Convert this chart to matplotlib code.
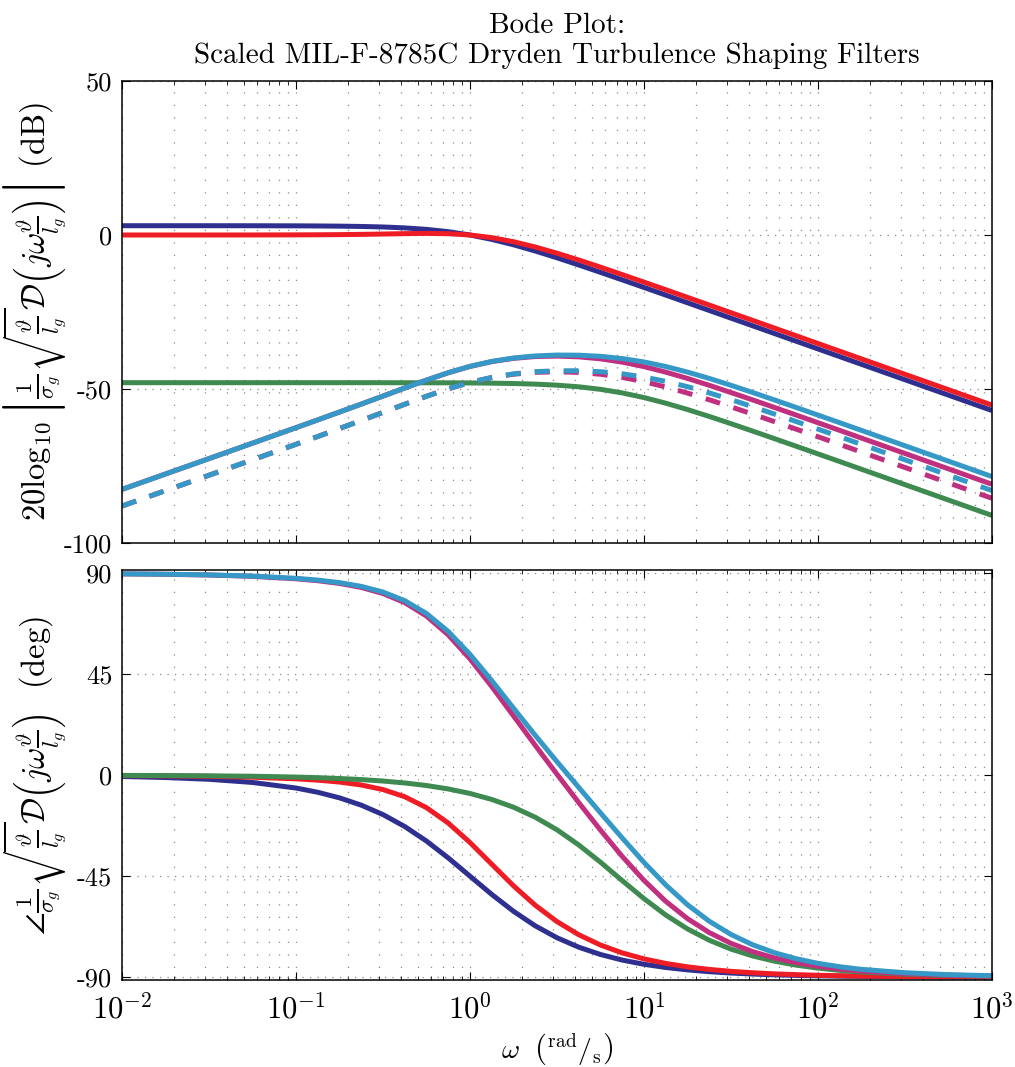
import matplotlib
matplotlib.use("Agg")
import matplotlib.pyplot as plt
from matplotlib.ticker import LogLocator, NullFormatter, FixedLocator

plt.rcParams['font.family'] = 'serif'
plt.rcParams['font.serif'] = ['cmr10', 'DejaVu Serif']
plt.rcParams['mathtext.fontset'] = 'cm'
plt.rcParams['axes.formatter.use_mathtext'] = True

# frequencies (rad/s)
omega = [0.01, 0.01778, 0.03162, 0.05623, 0.1, 0.1334, 0.1778, 0.2371, 0.3162,
         0.4217, 0.5623, 0.7499, 1.0, 1.334, 1.778, 2.371, 3.162, 4.217, 5.623,
         7.499, 10.0, 13.34, 17.78, 23.71, 31.62, 42.17, 56.23, 74.99, 100.0,
         133.4, 177.8, 316.2, 562.3, 1000.0]

# magnitudes (dB)
mag_u = [3.01, 3.01, 3.01, 3.00, 2.97, 2.93, 2.87, 2.77, 2.60, 2.30, 1.82, 1.07,
         0.00, -1.43, -3.18, -5.20, -7.40, -9.73, -12.13, -14.57, -17.03, -19.51,
         -22.00, -24.50, -27.00, -29.49, -31.99, -34.49, -36.99, -39.49, -41.99,
         -46.99, -51.99, -56.99]
mag_v = [0.00, 0.00, 0.00, 0.01, 0.04, 0.07, 0.12, 0.20, 0.31, 0.44, 0.51, 0.42,
         0.00, -0.86, -2.18, -3.90, -5.91, -8.12, -10.45, -12.86, -15.30, -17.77,
         -20.25, -22.74, -25.24, -27.73, -30.23, -32.73, -35.23, -37.73, -40.23,
         -45.23, -50.23, -55.23]
mag_p = [-47.95, -47.95, -47.95, -47.95, -47.95, -47.95, -47.95, -47.95, -47.96,
         -47.97, -47.98, -48.00, -48.04, -48.10, -48.22, -48.42, -48.76, -49.29,
         -50.11, -51.27, -52.78, -54.61, -56.67, -58.91, -61.26, -63.67, -66.12,
         -68.59, -71.07, -73.56, -76.05, -81.05, -86.05, -91.05]
mag_q = [-82.6, -77.6, -72.6, -67.59, -62.56, -60.03, -57.48, -54.91, -52.30,
         -49.68, -47.12, -44.73, -42.69, -41.11, -40.05, -39.47, -39.32, -39.56,
         -40.21, -41.28, -42.73, -44.53, -46.57, -48.80, -51.15, -53.55, -56.00,
         -58.47, -60.95, -63.44, -65.93, -70.93, -75.93, -80.93]
mag_r = [-82.6, -77.6, -72.6, -67.59, -62.56, -60.03, -57.48, -54.90, -52.30,
         -49.67, -47.11, -44.71, -42.65, -41.05, -39.94, -39.27, -38.98, -39.03,
         -39.39, -40.12, -41.22, -42.70, -44.51, -46.56, -48.80, -51.14, -53.55,
         -56.00, -58.47, -60.95, -63.44, -68.43, -73.43, -78.43]
mag_q_alt = [-88.0, -83.0, -78.0, -72.99, -67.96, -65.43, -62.83, -60.24, -57.60,
             -54.96, -52.37, -49.95, -47.89, -46.29, -45.20, -44.59, -44.42, -44.61,
             -45.21, -46.23, -47.63, -49.35, -51.32, -53.50, -55.80, -58.17, -60.60,
             -63.04, -65.50, -67.99, -70.48, -75.48, -80.48, -85.48]
mag_r_alt = [-88.0, -83.0, -78.0, -72.99, -67.96, -65.43, -62.83, -60.23, -57.60,
             -54.95, -52.36, -49.93, -47.85, -46.23, -45.09, -44.39, -44.08, -44.08,
             -44.39, -45.07, -46.12, -47.52, -49.26, -51.26, -53.45, -55.76, -58.15,
             -60.57, -63.02, -65.50, -67.99, -72.98, -77.98, -82.98]

# phases (deg)
ph_u = [-0.57, -1.02, -1.81, -3.22, -5.71, -7.60, -10.08, -13.34, -17.55, -22.87,
        -29.35, -36.86, -45.0, -53.14, -60.65, -67.14, -72.45, -76.66, -79.92,
        -82.41, -84.29, -85.71, -86.78, -87.59, -88.19, -88.64, -88.98, -89.24,
        -89.43, -89.57, -89.68, -89.82, -89.90, -89.94]
ph_v = [-0.15, -0.27, -0.49, -0.87, -1.60, -2.19, -3.04, -4.35, -6.39, -9.59,
        -14.45, -21.32, -30.0, -39.68, -49.29, -57.95, -65.25, -71.11, -75.70,
        -79.21, -81.88, -83.90, -85.42, -86.57, -87.43, -88.07, -88.55, -88.91,
        -89.19, -89.39, -89.55, -89.74, -89.86, -89.91]
ph_p = [-0.08, -0.15, -0.26, -0.46, -0.82, -1.09, -1.46, -1.94, -2.59, -3.45,
        -4.59, -6.12, -8.13, -10.79, -14.25, -18.72, -24.31, -31.08, -38.77,
        -46.99, -55.01, -62.32, -68.51, -73.56, -77.52, -80.58, -82.90, -84.67,
        -86.00, -86.99, -87.75, -88.73, -89.29, -89.60]
ph_q = [89.77, 89.58, 89.25, 88.67, 87.58, 86.72, 85.51, 83.71, 81.02, 76.96,
        70.96, 62.56, 51.87, 39.53, 26.46, 13.33, 0.44, -12.19, -24.47, -36.20,
        -46.89, -56.22, -63.93, -70.13, -74.95, -78.65, -81.45, -83.58, -85.19,
        -86.38, -87.30, -88.47, -89.15, -89.51]
ph_r = [89.79, 89.62, 89.32, 88.79, 87.79, 86.99, 85.87, 84.19, 81.67, 77.82,
        72.10, 64.09, 53.88, 42.19, 29.92, 17.80, 6.03, -5.42, -16.78, -27.98,
        -38.87, -48.91, -57.74, -65.08, -70.99, -75.59, -79.13, -81.81, -83.86,
        -85.39, -86.54, -88.05, -88.91, -89.38]

c_u = '#2e2f8f'
c_v = '#ee1c25'
c_p = '#3e8a50'
c_q = '#c0307f'
c_r = '#3598c6'

LW = 3.6
DASH = (3.0, 2.8)

fig = plt.figure(figsize=(10.15, 10.67), dpi=100)
ax1 = fig.add_axes([0.1202, 0.4911, 0.8571, 0.4330])
ax2 = fig.add_axes([0.1202, 0.0811, 0.8571, 0.3847])

kw = dict(lw=LW, solid_joinstyle='round', solid_capstyle='butt')
ax1.plot(omega, mag_u, color=c_u, **kw)
ax1.plot(omega, mag_v, color=c_v, **kw)
ax1.plot(omega, mag_p, color=c_p, **kw)
ax1.plot(omega, mag_q, color=c_q, **kw)
ax1.plot(omega, mag_r, color=c_r, **kw)
ax1.plot(omega, mag_q_alt, color=c_q, lw=LW, dashes=DASH)
ax1.plot(omega, mag_r_alt, color=c_r, lw=LW, dashes=DASH)

ax2.plot(omega, ph_u, color=c_u, **kw)
ax2.plot(omega, ph_v, color=c_v, **kw)
ax2.plot(omega, ph_p, color=c_p, **kw)
ax2.plot(omega, ph_q, color=c_q, **kw)
ax2.plot(omega, ph_r, color=c_r, **kw)

for ax in (ax1, ax2):
    ax.set_xscale('log')
    ax.set_xlim(1e-2, 1e3)
    ax.xaxis.set_major_locator(LogLocator(base=10, numticks=10))
    ax.xaxis.set_minor_locator(LogLocator(base=10, subs=range(2, 10), numticks=100))
    ax.xaxis.set_minor_formatter(NullFormatter())
    ax.tick_params(which='both', direction='in', top=True, right=True)
    ax.tick_params(which='major', length=6, width=0.8, pad=7)
    ax.tick_params(which='minor', length=3, width=0.6)
    ax.grid(True, which='both', axis='x', color='#8a8a8a', lw=0.9,
            linestyle=(0, (1, 9)))
    ax.grid(True, which='major', axis='y', color='#8a8a8a', lw=0.9,
            linestyle=(0, (1, 5)))
    for s in ax.spines.values():
        s.set_linewidth(1.1)
    ax.set_axisbelow(True)

ax1.set_ylim(-100, 50)
ax1.yaxis.set_major_locator(FixedLocator([50, 0, -50, -100]))
ax1.set_yticklabels(['50', '0', '-50', '-100'], fontsize=19)
ax1.tick_params(axis='x', labelbottom=False)

ax2.set_ylim(-91.5, 91.5)
ax2.yaxis.set_major_locator(FixedLocator([90, 45, 0, -45, -90]))
ax2.set_yticklabels(['90', '45', '0', '-45', '-90'], fontsize=19)
xt = [1e-2, 1e-1, 1e0, 1e1, 1e2, 1e3]
ax2.set_xticks(xt)
ax2.set_xticklabels([r'$10^{-2}$', r'$10^{-1}$', r'$10^{0}$', r'$10^{1}$',
                     r'$10^{2}$', r'$10^{3}$'], fontsize=22)
ax2.tick_params(axis='x', which='major', pad=9)

ax1.set_title("Bode Plot:\nScaled MIL-F-8785C Dryden Turbulence Shaping Filters",
              fontsize=21, pad=13, linespacing=1.15)

ax1.set_ylabel(r'$20\log_{10}\left|\frac{1}{\sigma_g}\sqrt{\frac{\vartheta}{l_g}}'
               r'\mathcal{D}\left(j\omega\frac{\vartheta}{l_g}\right)\right|$ (dB)',
               fontsize=23.5)
ax1.yaxis.set_label_coords(-0.061, 0.5)
ax2.set_ylabel(r'$\angle\frac{1}{\sigma_g}\sqrt{\frac{\vartheta}{l_g}}'
               r'\mathcal{D}\left(j\omega\frac{\vartheta}{l_g}\right)$  (deg)',
               fontsize=23.5)
ax2.yaxis.set_label_coords(-0.061, 0.5)
ax2.set_xlabel(r'$\omega\ \ \left({}^{\mathrm{rad}}/{}_{\mathrm{s}}\right)$', fontsize=20)
ax2.xaxis.set_label_coords(0.5, -0.125)

fig.savefig('out.png', dpi=100)
